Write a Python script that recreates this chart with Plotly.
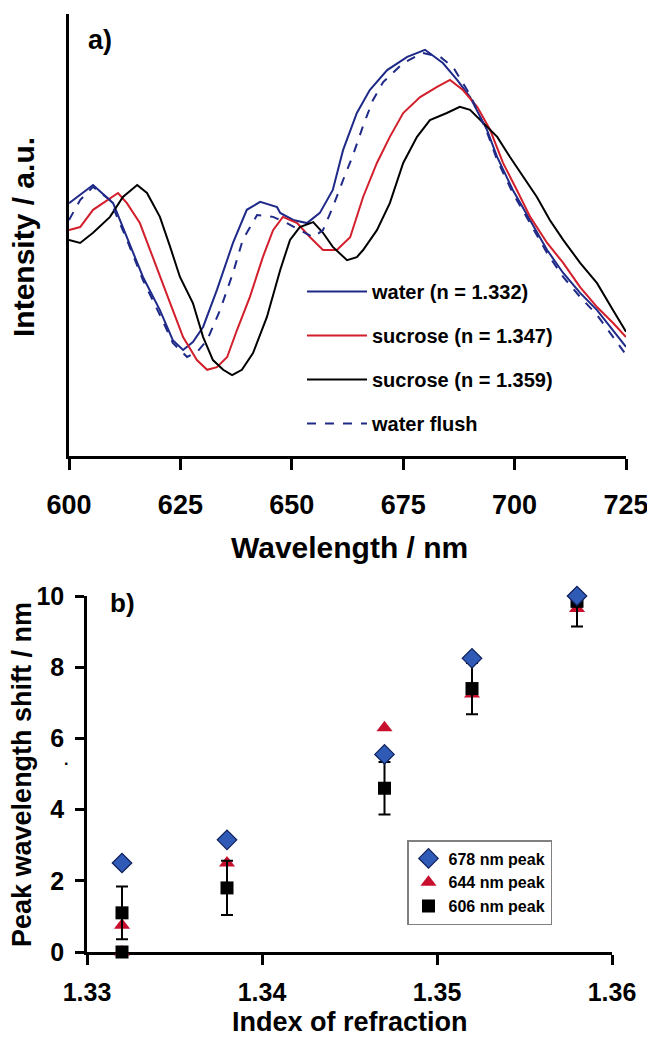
import plotly.graph_objects as go

# ---------------- Panel a) spectra ----------------
wl_water = [600, 605.4, 609.9, 613.0, 616.6, 620.4, 623.3, 625.6, 627.8, 630.1, 633.2, 636.8, 639.9,
            642.9, 646.7, 647.4, 650.3, 653.4, 656.3, 659.2, 661.5, 664.6, 667.5, 671.4, 675.9, 679.9,
            683.9, 687.1, 690.0, 693.8, 696.1, 699.6, 703.5, 707.3, 710.9, 714.7, 718.5, 722.1, 725]
int_water = [57.2, 61.3, 57.2, 49.5, 40.5, 33.0, 26.2, 24.0, 25.8, 29.2, 37.6, 48.2, 55.7,
             57.5, 56.3, 55.0, 53.4, 52.7, 55.0, 60.2, 69.2, 77.6, 82.8, 87.3, 90.3, 91.9,
             88.9, 85.1, 81.2, 73.8, 67.6, 60.2, 53.4, 46.6, 41.4, 36.9, 33.0, 28.5, 24.7]

wl_flush = [600, 602.5, 605.4, 609.2, 613.0, 616.6, 620.4, 623.3, 626.5, 628.7, 631.0, 633.9, 636.8,
            639.0, 642.2, 645.8, 648.9, 651.8, 654.8, 657.0, 659.2, 661.5, 663.7, 666.0, 668.2, 670.5,
            675.0, 679.4, 683.3, 686.2, 690.0, 693.8, 696.1, 699.6, 703.5, 707.3, 710.9, 714.7, 718.5,
            722.1, 725]
int_flush = [53.4, 57.9, 60.9, 57.9, 48.9, 39.8, 31.9, 25.6, 22.4, 23.5, 26.2, 33.0, 41.4,
             48.9, 54.5, 54.1, 52.7, 51.1, 49.5, 51.1, 56.3, 62.4, 68.0, 74.7, 80.5, 84.6,
             88.9, 91.2, 90.3, 88.0, 81.7, 73.3, 66.9, 59.5, 52.7, 45.9, 40.5, 36.0, 31.9,
             26.9, 22.9]

wl_suc1 = [600, 602.5, 605.4, 608.5, 611.0, 613.0, 615.9, 618.2, 620.4, 622.7, 625.6, 628.7, 631.0,
           633.2, 635.5, 637.7, 640.6, 643.5, 645.8, 648.0, 651.2, 654.1, 657.0, 660.1, 663.1, 666.0,
           669.1, 672.0, 675.0, 678.8, 682.6, 685.5, 688.4, 691.6, 694.5, 697.4, 700.5, 703.5, 707.3,
           710.9, 714.7, 718.5, 722.1, 725]
int_suc1 = [51.1, 51.8, 55.7, 57.9, 59.5, 57.2, 52.7, 46.6, 40.5, 34.6, 26.9, 21.7, 19.5,
            20.1, 22.4, 28.5, 36.0, 45.0, 51.1, 54.1, 52.7, 49.5, 46.6, 46.6, 49.5, 58.6,
            66.3, 72.2, 77.6, 81.2, 83.5, 85.1, 82.8, 79.0, 73.8, 66.3, 60.2, 54.1, 48.2,
            43.7, 38.2, 33.7, 30.1, 26.9]

wl_suc2 = [600, 602.5, 605.4, 609.2, 612.1, 615.3, 617.5, 620.4, 622.7, 624.9, 627.8, 630.1, 632.3,
           634.6, 636.6, 638.8, 641.3, 644.4, 647.4, 649.6, 651.8, 654.8, 657.0, 659.2, 662.4, 664.6,
           666.0, 669.1, 672.0, 675.0, 678.1, 681.0, 684.8, 687.7, 690.0, 692.9, 696.1, 699.0, 701.9,
           705.0, 707.9, 710.9, 714.7, 718.5, 722.1, 725]
int_suc2 = [48.9, 48.2, 50.5, 54.1, 58.6, 61.3, 59.5, 54.1, 47.3, 40.5, 34.6, 26.9, 21.7,
            19.5, 18.3, 19.5, 23.3, 31.4, 42.1, 48.9, 51.8, 52.9, 50.5, 47.3, 44.3, 45.0,
            46.6, 51.1, 57.2, 66.3, 72.2, 76.0, 77.6, 79.0, 78.3, 75.3, 72.2, 67.6, 63.1,
            58.6, 53.4, 48.9, 43.7, 39.1, 33.0, 28.1]

spec_names = ["water (n = 1.332)", "sucrose (n = 1.347)", "sucrose (n = 1.359)", "water flush"]

# ---------------- Panel b) peak shifts ----------------
ref_index = [1.332, 1.332, 1.338, 1.347, 1.352, 1.358]
shift_678 = [None, 2.5, 3.15, 5.55, 8.25, 10.0]
shift_644 = [0.0, 0.75, 2.5, 6.3, 7.25, 9.65]
shift_606 = [0.0, 1.1, 1.8, 4.6, 7.4, 9.85]
err_606 = [0.0, 0.74, 0.76, 0.74, 0.72, 0.71]
peak_names = ["678 nm peak", "644 nm peak", "606 nm peak"]

# The page body has an 8 px margin, so the figure is 8 px smaller and coordinates shift by 8.
OFF = 8
W, H = 655 - OFF, 1040 - OFF
def px(x):
    return (x - OFF) / W
def py(y):
    return 1 - (y - OFF) / H

FONT = "Liberation Sans, Arial, sans-serif"
NAVY = "#1f2a88"
RED = "#d21f2b"

fig = go.Figure()

spec = [(wl_water, int_water, NAVY, "solid"),
        (wl_suc1, int_suc1, RED, "solid"),
        (wl_suc2, int_suc2, "black", "solid"),
        (wl_flush, int_flush, NAVY, "dash")]
for i, (xs, ys, c, d) in enumerate(spec):
    fig.add_trace(go.Scatter(x=xs, y=ys, mode="lines", name=spec_names[i],
                             line=dict(color=c, width=2, dash=d),
                             xaxis="x", yaxis="y", legend="legend",
                             legendgroup="g%d" % i))

# order: triangles, squares (with error bars), diamonds on top
fig.add_trace(go.Scatter(x=ref_index, y=shift_644, mode="markers", name=peak_names[1],
                         marker=dict(symbol="triangle-up", size=14, color="#c8102e"),
                         xaxis="x2", yaxis="y2", legend="legend2", legendrank=2, cliponaxis=False))
fig.add_trace(go.Scatter(x=ref_index, y=shift_606, mode="markers", name=peak_names[2],
                         marker=dict(symbol="square", size=13, color="black"),
                         error_y=dict(type="data", array=err_606, color="black", thickness=2, width=6),
                         xaxis="x2", yaxis="y2", legend="legend2", legendrank=3, cliponaxis=False))
fig.add_trace(go.Scatter(x=ref_index, y=shift_678, mode="markers", name=peak_names[0],
                         marker=dict(symbol="diamond", size=15, color="#2f5bb7",
                                     line=dict(color="#10205a", width=1.2)),
                         xaxis="x2", yaxis="y2", legend="legend2", legendrank=1, cliponaxis=False))

axis_common = dict(showline=True, linecolor="black", linewidth=2.5, showgrid=False,
                   zeroline=False, ticks="outside", tickcolor="black", tickwidth=2.5,
                   automargin=False)

fig.update_layout(
    width=W, height=H,
    margin=dict(l=0, r=0, t=0, b=0, pad=0, autoexpand=False),
    paper_bgcolor="white", plot_bgcolor="white",
    font=dict(family=FONT, color="black"),
    xaxis=dict(domain=[px(69), px(626)], range=[600, 725], tickvals=[600, 625, 650, 675, 700, 725],
               anchor="y", ticklen=11, ticklabelstandoff=12,
               tickfont=dict(size=27, weight="bold"), **axis_common),
    yaxis=dict(domain=[py(456), py(14)], range=[0, 100], anchor="x", showline=True, linecolor="black",
               linewidth=2.5, showgrid=False, zeroline=False, ticks="", showticklabels=False,
               automargin=False),
    xaxis2=dict(domain=[px(87), px(612)], range=[1.33, 1.36], tickvals=[1.33, 1.34, 1.35, 1.36],
                tickformat=".2f", anchor="y2", ticklen=10, layer="below traces", ticklabelstandoff=6,
                tickfont=dict(size=25, weight="bold"), **axis_common),
    yaxis2=dict(domain=[py(952), py(596)], range=[0, 10], tickvals=[0, 2, 4, 6, 8, 10],
                anchor="x2", ticklen=9, layer="below traces", ticklabelstandoff=6,
                tickfont=dict(size=25, weight="bold"), **axis_common),
    legend=dict(x=px(302), y=py(272), xanchor="left", yanchor="top", bgcolor="rgba(0,0,0,0)",
                font=dict(size=20, weight="bold"), itemwidth=60, tracegroupgap=15,
                traceorder="grouped"),
    legend2=dict(x=px(407), y=py(840), xanchor="left", yanchor="top", bgcolor="white",
                 bordercolor="#808080", borderwidth=1.5,
                 font=dict(size=16, weight="bold"), itemwidth=30, tracegroupgap=0),
    showlegend=True,
)

ann = [
    dict(text="a)", x=px(100), y=py(40), size=27),
    dict(text="b)", x=px(122), y=py(603), size=26),
    dict(text="Wavelength / nm", x=px(349), y=py(547), size=30),
    dict(text="Index of refraction", x=px(350), y=py(1022), size=27),
]
for a in ann:
    fig.add_annotation(text=a["text"], x=a["x"], y=a["y"], xref="paper", yref="paper",
                       xanchor="center", yanchor="middle", showarrow=False,
                       font=dict(size=a["size"], weight="bold", family=FONT))
fig.add_annotation(text="Intensity / a.u.", x=px(24), y=py(237), xref="paper", yref="paper",
                   textangle=-90, showarrow=False, xanchor="center", yanchor="middle",
                   font=dict(size=30, weight="bold", family=FONT))
fig.add_annotation(text="Peak wavelength shift / nm", x=px(22), y=py(775), xref="paper", yref="paper",
                   textangle=-90, showarrow=False, xanchor="center", yanchor="middle",
                   font=dict(size=27, weight="bold", family=FONT))
fig.add_annotation(text=".", x=px(62), y=py(770), xref="paper", yref="paper", showarrow=False,
                   font=dict(size=16, weight="bold", family=FONT))

fig.write_html("out.html")
